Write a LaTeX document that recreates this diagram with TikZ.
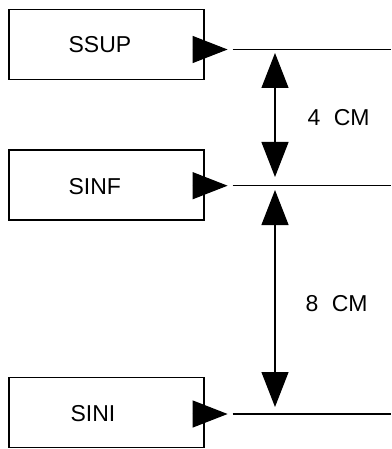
\documentclass[tikz,border=0pt]{standalone}
\usepackage{fontspec}
\setmainfont{Liberation Sans}
\usetikzlibrary{arrows.meta,calc}
\begin{document}
\begin{tikzpicture}[x=1pt,y=-1pt, line width=1.2pt,
  box/.style={draw, minimum width=195pt, minimum height=70pt, inner sep=0pt},
  lbl/.style={font=\fontsize{23}{25}\selectfont, anchor=west, inner sep=0pt},
  tipr/.style={-{Triangle[length=35pt,width=27pt]}},
  dbl/.style={{Triangle[length=35pt,width=27pt]}-{Triangle[length=35pt,width=27pt]}}]
\useasboundingbox (0,0) rectangle (391,449);
% boxes
\node[box] (ssup) at (106.5,44.5) {};
\node[box] (sinf) at (106.5,185) {};
\node[box] (sini) at (106.5,412.5) {};
% box texts
\node[lbl] (tssup) at (68,45) {SSUP};
\node[lbl] (tsinf) at (68,187) {SINF};
\node[lbl] (tsini) at (70,414) {SINI};
% arrow heads and level lines
\coordinate (b1) at ($(ssup.east |- 0,49.5)+(-12,0)$);
\coordinate (h1) at ($(ssup.east |- 0,49.5)+(23,0)$);
\coordinate (s1) at ($(ssup.east |- 0,49.5)+(28,0)$);
\coordinate (r1) at (391,49.5);
\coordinate (b2) at ($(sinf.east |- 0,185.7)+(-12,0)$);
\coordinate (h2) at ($(sinf.east |- 0,185.7)+(23,0)$);
\coordinate (s2) at ($(sinf.east |- 0,185.7)+(28,0)$);
\coordinate (r2) at (391,185.7);
\coordinate (b3) at ($(sini.east |- 0,414)+(-12,0)$);
\coordinate (h3) at ($(sini.east |- 0,414)+(23,0)$);
\coordinate (s3) at ($(sini.east |- 0,414)+(28,0)$);
\coordinate (r3) at (391,414);
\draw[tipr] (b1) -- (h1);
\draw[tipr] (b2) -- (h2);
\draw[tipr] (b3) -- (h3);
\draw (s1) -- (r1);
\draw (s2) -- (r2);
\draw (s3) -- (r3);
% dimension arrows
\coordinate (u1) at (275,53);
\coordinate (u2) at (275,177);
\coordinate (v1) at (275,190);
\coordinate (v2) at (275,407);
\draw[dbl] (u1) -- (u2);
\draw[dbl] (v1) -- (v2);
\node[lbl] (d4) at (307,117.5) {4\hspace{7pt} CM};
\node[lbl] (d8) at (305,304) {8\hspace{7pt} CM};
\end{tikzpicture}
\end{document}
